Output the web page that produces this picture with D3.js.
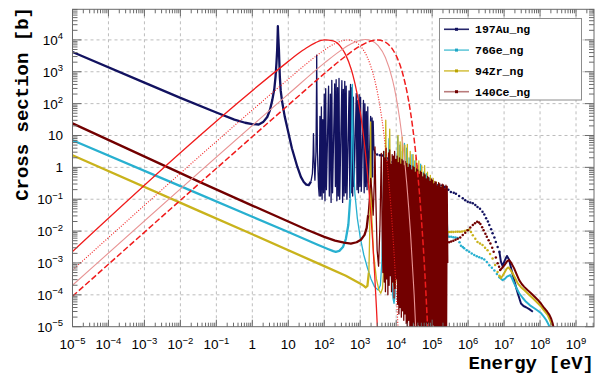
<!DOCTYPE html>
<html>
<head>
<meta charset="utf-8">
<script src="https://cdn.jsdelivr.net/npm/d3@7/dist/d3.min.js"></script>
<style>
  body { margin: 0; background: #fff; }
  svg { display: block; }
</style>
</head>
<body>
<svg id="chart" width="598" height="374"></svg>
<script>
// every point is [log10(E / eV), log10(sigma / b)]

const isotopes = ["197Au_ng", "76Ge_ng", "94Zr_ng", "140Ce_ng"];

// ---- 197Au ----
const au197Thermal = [[-5,3.62],[-3,2.66],[-2,2.18],[-1,1.72],[-0.5,1.5],[-0.2,1.4],[0,1.36],[0.18,1.345],
  [0.3,1.42],[0.415,1.58],[0.49,1.8],[0.555,2.11],[0.61,2.45],[0.645,2.84],[0.67,3.25],[0.69,3.67],[0.705,4.2],
  [0.71,4.43],[0.717,4.2],[0.74,3.67],[0.765,2.84],[0.79,2.4],[0.83,2.05],[0.9,1.6],[0.97,1.25],[1.1,0.6],
  [1.25,0.02],[1.35,-0.3],[1.43,-0.46],[1.5,-0.54],[1.57,-0.56],[1.63,-0.45]];
const au197Res = [[1.63,-0.45],[1.67,-0.2],[1.69,0.4],[1.70,1.06],[1.715,0.3],[1.74,-0.4],[1.77,0.5],[1.785,2.5],
  [1.79,3.52],[1.795,2.5],[1.81,0.5],[1.84,-0.6],[1.86,-0.9],
  [1.88,1.6],[1.90,-0.9],[1.92,1.9],[1.94,-1.0],[1.96,1.5],[1.98,-0.8],[2.00,2.3],[2.02,-1.05],[2.04,2.47],
  [2.06,-0.7],[2.12,2.55],[2.14,-0.9],[2.17,2.3],[2.19,-1.1],[2.21,2.73],[2.23,-0.8],
  [2.29,2.62],[2.31,-0.6],[2.33,2.75],[2.35,-1.05],[2.37,2.5],[2.39,-0.9],[2.41,2.79],
  [2.43,-1.0],[2.49,2.72],[2.51,-1.1],[2.53,2.45],[2.55,-0.9],[2.57,2.7],[2.59,-0.8],
  [2.61,2.55],[2.63,-1.0],[2.69,2.4],[2.71,-0.95],[2.73,2.6],[2.75,-0.8],[2.77,2.5],
  [2.79,-0.9],[2.81,2.2],[2.83,-0.6],[2.89,2.32],[2.91,-0.7],[2.93,2.1],[2.95,-0.8],
  [2.97,2.28],[2.99,-0.6],[3.01,2.2],[3.03,-0.75],[3.09,2.1],[3.11,-0.8],[3.13,2.0],
  [3.15,-0.6],[3.17,1.75],[3.19,-0.7],[3.21,1.9],[3.23,-0.5],[3.29,1.6],[3.31,-0.55],
  [3.33,1.55],[3.345,-0.3],[3.36,1.45],[3.38,0.6],[3.42,0.42]];
const au197Dots = [[3.47,0.40],[3.55,0.38],[3.62,0.37],[3.75,0.28],[3.9,0.17],[4.05,0.06],[4.2,-0.05],[4.35,-0.15],
  [4.5,-0.25],[4.65,-0.33],[4.8,-0.4],[4.92,-0.45],[5.0,-0.48],[5.08,-0.52],[5.17,-0.55],[5.26,-0.58],[5.35,-0.62],
  [5.45,-0.7],[5.52,-0.77],[5.6,-0.8],[5.66,-0.83],[5.75,-0.9],[5.85,-0.97],[5.92,-1.03],[5.99,-1.08],[6.06,-1.1],
  [6.13,-1.13],[6.2,-1.18],[6.26,-1.24],[6.33,-1.3],[6.40,-1.39],[6.45,-1.48],[6.50,-1.6],[6.55,-1.7],[6.59,-1.81],
  [6.64,-1.94],[6.68,-2.07],[6.73,-2.2],[6.77,-2.34],[6.82,-2.5],[6.87,-2.65]];
const au197High = [[6.87,-2.65],[6.91,-2.95],[6.96,-3.1],[7.02,-2.92],[7.08,-2.78],[7.14,-2.9],[7.19,-3.14],
  [7.24,-3.36],[7.28,-3.54],[7.33,-3.75],[7.38,-3.95],[7.43,-4.13],[7.47,-4.27],[7.54,-4.35],[7.61,-4.39],
  [7.7,-4.45],[7.8,-4.53]];

// ---- 76Ge ----
const ge76Thermal = [[-5,0.85],[-2,-0.59],[0,-1.55],[1,-2.03],[1.8,-2.42],[2.1,-2.56],[2.25,-2.63],[2.32,-2.65],
  [2.42,-2.62],[2.52,-2.5],[2.6,-2.25],[2.67,-1.8],[2.72,-1.0]];
const ge76Res = [[2.72,-1.0],[2.75,0.0],[2.765,1.3],[2.78,2.6],[2.795,1.3],[2.81,0.2],[2.85,-0.8],[2.92,-1.6],
  [3.0,-2.2],[3.1,-2.75],[3.2,-3.15],[3.3,-3.5],[3.4,-3.75],[3.5,-3.85],[3.56,-3.7],[3.6,-3.0],[3.63,-1.5],
  [3.66,0.5],[3.69,-1.8],[3.72,-2.8],[3.76,-1.0],[3.8,0.9],[3.83,-1.5],[3.87,-3.5],[3.91,-4.1],[3.94,-4.27],
  [3.97,-4.0],[4.0,-2.0],[4.04,0.96],[4.07,-3.6],[4.1,0.7],[4.13,-3.85],[4.17,0.5],[4.2,-3.7],[4.23,0.75],
  [4.26,-3.9],[4.29,0.6],[4.32,-3.8],[4.36,0.3],[4.4,-3.5],[4.44,0.4],[4.48,-3.4],[4.52,0.2],[4.56,-3.6],
  [4.6,0.05],[4.64,-3.4],[4.68,0.1],[4.72,-3.5],[4.76,-0.15],[4.8,-3.3],[4.84,-0.2],[4.88,-3.5],[4.92,-0.35],
  [4.96,-3.3],[5.0,-0.45],[5.04,-3.4],[5.08,-0.55],[5.12,-3.3],[5.16,-0.7],[5.2,-3.2],[5.24,-0.75],[5.28,-3.1],
  [5.32,-0.85],[5.36,-2.8],[5.4,-1.2],[5.44,-2.18]];
const ge76Dots = [[5.47,-2.18],[5.53,-2.18],[5.59,-2.19],[5.65,-2.2],[5.71,-2.22],[5.76,-2.35],[5.80,-2.46],
  [5.85,-2.5],[5.89,-2.54],[5.96,-2.6],[6.03,-2.65],[6.1,-2.7],[6.17,-2.75],[6.24,-2.79],[6.31,-2.82],[6.38,-2.85],
  [6.45,-2.89],[6.52,-2.97],[6.59,-3.07],[6.66,-3.15],[6.73,-3.24],[6.8,-3.35],[6.87,-3.45]];
const ge76High = [[6.87,-3.45],[6.96,-3.54],[7.02,-3.5],[7.08,-3.43],[7.17,-3.38],[7.22,-3.48],[7.28,-3.64],
  [7.35,-3.8],[7.42,-3.95],[7.52,-4.1],[7.61,-4.22],[7.72,-4.33],[7.84,-4.42],[7.94,-4.5],[8.03,-4.58],
  [8.1,-4.68],[8.17,-4.79],[8.23,-4.92],[8.29,-5.08]];

// ---- 94Zr ----
const zr94Thermal = [[-5,0.38],[-1.44,-1.39],[0,-2.1],[2,-3.1],[2.6,-3.4],[3.02,-3.66],[3.1,-3.72],[3.15,-3.77],
  [3.2,-3.72],[3.24,-3.3]];
const zr94Res = [[3.24,-3.3],[3.265,-2.0],[3.28,0.0],[3.29,1.43],[3.30,0.0],[3.32,-1.5],[3.37,-2.7],[3.45,-3.5],
  [3.52,-3.85],[3.57,-3.95],[3.62,-3.8],[3.66,-3.0],[3.69,-1.0],[3.71,1.48],[3.73,-0.8],[3.76,-2.5],[3.79,-0.5],
  [3.82,1.2],[3.85,-1.8],[3.9,-3.3],[3.94,-3.7],[3.97,-3.8],[4.0,-3.3],[4.03,-1.0],[4.05,1.0],[4.08,-3.5],
  [4.11,0.8],[4.14,-3.3],[4.17,0.95],[4.2,-3.6],[4.24,0.7],[4.28,-3.4],[4.31,0.72],[4.35,-3.5],[4.39,0.5],
  [4.43,-3.3],[4.47,0.4],[4.51,-3.5],[4.55,0.3],[4.59,-3.3],[4.63,0.2],[4.67,-3.4],[4.71,0.05],[4.75,-3.2],
  [4.79,0.05],[4.83,-3.3],[4.87,-0.15],[4.91,-3.2],[4.95,-0.25],[4.99,-3.1],[5.03,-0.35],[5.07,-3.2],[5.11,-0.45],
  [5.15,-3.0],[5.19,-0.5],[5.23,-3.1],[5.27,-0.6],[5.31,-2.9],[5.35,-0.8],[5.39,-2.6],[5.43,-2.03]];
const zr94Dots = [[5.47,-2.03],[5.53,-2.03],[5.59,-2.03],[5.65,-2.02],[5.71,-2.02],[5.77,-2.02],[5.83,-2.01],
  [5.9,-2.0],[5.96,-1.97],[6.03,-1.95],[6.08,-2.03],[6.13,-2.13],[6.2,-2.24],[6.26,-2.34],[6.33,-2.39],[6.4,-2.44],
  [6.47,-2.52],[6.54,-2.6],[6.61,-2.72],[6.68,-2.86],[6.75,-3.06],[6.82,-3.28],[6.87,-3.4]];
const zr94High = [[6.87,-3.4],[6.91,-3.48],[6.96,-3.4],[7.02,-3.28],[7.07,-3.18],[7.12,-3.14],[7.18,-3.22],
  [7.24,-3.33],[7.31,-3.48],[7.38,-3.64],[7.47,-3.76],[7.56,-3.85],[7.68,-3.98],[7.80,-4.11],[7.92,-4.24],
  [8.03,-4.37],[8.12,-4.5],[8.21,-4.63],[8.27,-4.78],[8.33,-4.95]];

// ---- 140Ce ----
const ce140Thermal = [[-5,1.38],[-1.44,-0.47],[0,-1.2],[1,-1.7],[1.5,-1.95],[2.0,-2.18],[2.3,-2.3],[2.55,-2.36],
  [2.74,-2.39],[2.9,-2.35],[3.02,-2.27],[3.12,-2.12],[3.18,-1.9],[3.22,-1.5]];
const ce140Res = [[3.22,-1.5],[3.26,-0.9],[3.29,-0.35],[3.32,-0.7],[3.36,-1.5],[3.39,-0.5],[3.41,0.64],[3.43,-0.8],
  [3.47,-2.6],[3.51,-3.1],[3.55,-1.8],[3.585,0.44],[3.61,-2.0],[3.63,-3.3],
  [3.650,0.50],[3.667,-3.6],[3.684,0.30],[3.701,-3.9],[3.718,0.60],[3.735,-3.5],[3.752,0.20],[3.769,-4.0],
  [3.786,0.45],[3.803,-3.7],[3.820,0.55],[3.837,-3.4],[3.854,0.10],[3.871,-3.9],[3.888,0.40],[3.905,-3.6],
  [3.922,0.35],[3.939,-4.1],[3.956,0.50],[3.973,-3.8],[3.990,0.25],[4.007,-3.5],[4.024,0.35],[4.041,-4.3],
  [4.058,0.15],[4.075,-4.6],[4.092,0.30],[4.109,-4.4],[4.126,0.10],[4.143,-4.7],[4.160,0.25],[4.177,-4.5],
  [4.194,0.20],[4.211,-4.8],[4.228,0.05],[4.245,-4.6],[4.262,0.18],[4.279,-4.9],[4.296,0.12],[4.313,-5.1],
  [4.330,0.00],[4.347,-4.8],[4.364,0.10],[4.381,-5.2],[4.398,0.06],[4.415,-5.0],[4.432,-0.08],[4.449,-5.2],
  [4.466,0.04],[4.483,-4.9],[4.500,0.00],[4.517,-5.2],[4.534,-0.15],[4.551,-5.1],[4.568,-0.04],[4.585,-5.2],
  [4.602,-0.08],[4.619,-4.95],[4.636,-0.22],[4.653,-5.2],[4.670,-0.12],[4.687,-5.1],[4.704,-0.16],[4.721,-5.2],
  [4.738,-0.30],[4.755,-5.0],[4.772,-0.2],[4.789,-5.2],[4.806,-0.24],[4.823,-5.1],[4.840,-0.36],[4.857,-5.2],
  [4.874,-0.28],[4.891,-5.0],[4.908,-0.32],[4.925,-5.2],[4.942,-0.44],[4.959,-5.1],[4.976,-0.36],[4.993,-5.2],
  [5.010,-0.4],[5.027,-4.95],[5.044,-0.52],[5.061,-5.2],[5.078,-0.44],[5.095,-5.1],[5.112,-0.47],[5.129,-5.2],
  [5.146,-0.58],[5.163,-5.0],[5.180,-0.48],[5.197,-5.2],[5.214,-0.52],[5.231,-5.1],[5.248,-0.63],[5.265,-5.2],
  [5.282,-0.53],[5.299,-5.0],[5.316,-0.55],[5.333,-5.2],[5.350,-0.67],[5.367,-5.1],[5.384,-0.56],[5.401,-5.2],
  [5.418,-0.6],[5.435,-3.0]];
const ce140Dots = [[5.47,-2.35],[5.53,-2.33],[5.59,-2.3],[5.65,-2.27],[5.71,-2.24],[5.78,-2.2],[5.85,-2.12],
  [5.92,-2.05],[5.99,-1.97],[6.06,-1.89],[6.13,-1.81],[6.19,-1.75],[6.25,-1.71],[6.3,-1.73],[6.34,-1.78],
  [6.39,-1.88],[6.43,-1.97],[6.48,-2.08],[6.52,-2.18],[6.57,-2.29],[6.62,-2.39],[6.67,-2.52],[6.71,-2.65],
  [6.77,-2.83],[6.82,-3.01],[6.86,-3.12],[6.89,-3.22]];
const ce140High = [[6.89,-3.22],[6.95,-3.15],[7.01,-3.07],[7.08,-2.95],[7.14,-2.91],[7.2,-3.0],[7.28,-3.17],
  [7.35,-3.36],[7.42,-3.54],[7.49,-3.66],[7.56,-3.75],[7.65,-3.85],[7.75,-3.95],[7.85,-4.06],[7.94,-4.16],
  [8.03,-4.28],[8.12,-4.42],[8.2,-4.53],[8.26,-4.63],[8.31,-4.75],[8.35,-4.89],[8.38,-5.05]];

// ---- red flux curves ----
const fluxSolid = [[-5,-2.638],[1,3.326],[1.25,3.548],[1.5,3.748],[1.75,3.908],[2,4.0],[2.25,3.968],[2.5,3.717],
  [2.6,3.522],[2.75,3.077],[2.8,2.878],[2.9,2.387],[3.0,1.743],[3.05,1.351],[3.1,0.905],[3.15,0.398],[3.2,-0.175],
  [3.25,-0.823],[3.3,-1.559],[3.35,-2.391],[3.4,-3.33],[3.45,-4.388],[3.5,-5.58]];
const fluxDotted = [[-5,-3.222],[1,2.768],[1.5,3.247],[2,3.681],[2.25,3.856],[2.5,3.973],[2.65,3.997],[2.8,3.969],
  [3.0,3.813],[3.2,3.448],[3.4,2.754],[3.5,2.226],[3.6,1.536],[3.7,0.641],[3.8,-0.511],[3.9,-1.988],[4.0,-3.873],
  [4.05,-5.0],[4.1,-6.27]];
const fluxPink = [[-5,-3.699],[1,2.298],[2,3.27],[2.5,3.703],[2.75,3.877],[3.0,3.991],[3.15,4.013],[3.3,3.982],
  [3.5,3.82],[3.7,3.446],[3.9,2.737],[4.0,2.199],[4.1,1.496],[4.2,0.584],[4.3,-0.589],[4.4,-2.091],[4.5,-4.009],
  [4.6,-6.45]];
const fluxDashed = [[-5,-4.046],[1,1.954],[2,2.94],[2.5,3.408],[3,3.809],[3.25,3.947],[3.5,3.996],[3.7,3.928],
  [3.9,3.704],[4.0,3.506],[4.1,3.232],[4.2,2.86],[4.3,2.366],[4.4,1.718],[4.5,0.876],[4.6,-0.209],[4.7,-1.601],
  [4.8,-3.38],[4.9,-5.65]];

const xDecades = d3.range(-5, 10);
const yDecades = d3.range(-5, 5);

////////////////////////////////////////////////////////////////////////////////////

const svg = d3.select("#chart");
const frame = { left: 72.5, right: 594, top: 9.3, bottom: 326.7 };

const x = d3.scaleLog().domain([1e-5, 10 ** 9.5]).range([frame.left, frame.right]);
const y = d3.scaleLog().domain([1e-5, 10 ** 4.96]).range([frame.bottom, frame.top]);
const px = d => x(10 ** d[0]);
const py = d => y(10 ** d[1]);

const GRID = "#bdbdbd";
const AXIS = "#6a6a6a";
const MONO = "'Liberation Mono', 'DejaVu Sans Mono', monospace";
const SANS = "'Liberation Sans', Arial, sans-serif";

svg.append("defs").append("clipPath").attr("id", "clip")
  .append("rect")
  .attr("x", frame.left).attr("y", frame.top)
  .attr("width", frame.right - frame.left).attr("height", frame.bottom - frame.top);

// grid
const grid = svg.append("g").attr("stroke", GRID).attr("stroke-dasharray", "3,3").attr("stroke-width", 1);
xDecades.filter(d => d > -5).forEach(d => {
  grid.append("line").attr("x1", x(10 ** d)).attr("x2", x(10 ** d)).attr("y1", frame.top).attr("y2", frame.bottom);
});
yDecades.filter(d => d > -5).forEach(d => {
  grid.append("line").attr("y1", y(10 ** d)).attr("y2", y(10 ** d)).attr("x1", frame.left).attr("x2", frame.right);
});

// data
const plot = svg.append("g").attr("clip-path", "url(#clip)");
const line = d3.line().x(px).y(py);
const smooth = d3.line().x(px).y(py).curve(d3.curveMonotoneX);

const series = [
  { name: isotopes[0], color: "#121260", legendLine: "#25256a", marker: "#121260",
    thermal: au197Thermal, res: au197Res, dots: au197Dots, high: au197High },
  { name: isotopes[1], color: "#28b0d0", legendLine: "#66c9da", marker: "#1ea6c6",
    thermal: ge76Thermal, res: ge76Res, dots: ge76Dots, high: ge76High },
  { name: isotopes[2], color: "#c9b31c", legendLine: "#d6c34a", marker: "#b9a300",
    thermal: zr94Thermal, res: zr94Res, dots: zr94Dots, high: zr94High },
  { name: isotopes[3], color: "#720000", legendLine: "#b97b7b", marker: "#700000",
    thermal: ce140Thermal, res: ce140Res, dots: ce140Dots, high: ce140High },
];

series.forEach(s => {
  const g = plot.append("g").attr("fill", "none").attr("stroke", s.color).attr("stroke-linejoin", "round");
  g.append("path").attr("d", line(s.thermal)).attr("stroke-width", 2.3);
  g.append("path").attr("d", line(s.res)).attr("stroke-width", 1.3);
  g.append("path").attr("d", line(s.high)).attr("stroke-width", 2);
  plot.append("g").selectAll("circle").data(s.dots).enter().append("circle")
    .attr("cx", px).attr("cy", py).attr("r", 1.25).attr("fill", s.color);
});

const flux = [
  { data: fluxSolid, color: "#f01c1c", width: 1.3, dash: null },
  { data: fluxDotted, color: "#f01c1c", width: 1.1, dash: "1,1.6" },
  { data: fluxPink, color: "#e89494", width: 1.1, dash: null },
  { data: fluxDashed, color: "#f01c1c", width: 1.5, dash: "6,2.5" },
];
flux.forEach(f => {
  plot.append("path").attr("d", smooth(f.data)).attr("fill", "none")
    .attr("stroke", f.color).attr("stroke-width", f.width).attr("stroke-dasharray", f.dash);
});

// frame and ticks
const axes = svg.append("g").attr("stroke", AXIS).attr("stroke-width", 1);
axes.append("rect").attr("x", frame.left).attr("y", frame.top)
  .attr("width", frame.right - frame.left).attr("height", frame.bottom - frame.top).attr("fill", "none");

const [xLo, xHi] = x.domain();
xDecades.forEach(d => {
  d3.range(1, 10).forEach(k => {
    const v = k * 10 ** d;
    if (v < xLo || v > xHi) return;
    const len = k === 1 ? 7 : 4;
    const xx = x(v);
    axes.append("line").attr("x1", xx).attr("x2", xx).attr("y1", frame.bottom).attr("y2", frame.bottom - len);
    axes.append("line").attr("x1", xx).attr("x2", xx).attr("y1", frame.top).attr("y2", frame.top + len);
  });
});
const [yLo, yHi] = y.domain();
yDecades.forEach(d => {
  d3.range(1, 10).forEach(k => {
    const v = k * 10 ** d;
    if (v < yLo || v > yHi) return;
    const len = k === 1 ? 9 : 5;
    const yy = y(v);
    axes.append("line").attr("y1", yy).attr("y2", yy).attr("x1", frame.left).attr("x2", frame.left + len);
    axes.append("line").attr("y1", yy).attr("y2", yy).attr("x1", frame.right).attr("x2", frame.right - len);
  });
});

// tick labels
function label(sel, d) {
  if (d === 0) { sel.text("1"); return; }
  if (d === 1) { sel.text("10"); return; }
  sel.append("tspan").text("10");
  sel.append("tspan").attr("dy", -5.5).attr("font-size", 9.5).text(String(d).replace("-", "\u2212"));
}
const labels = svg.append("g").attr("font-family", SANS).attr("font-size", 13.5).attr("fill", "#000");
xDecades.forEach(d => {
  labels.append("text").attr("x", x(10 ** d)).attr("y", 349).attr("text-anchor", "middle").call(label, d);
});
yDecades.forEach(d => {
  labels.append("text").attr("x", 63).attr("y", y(10 ** d) + 5).attr("text-anchor", "end").call(label, d);
});

// axis titles
svg.append("text").attr("x", 594).attr("y", 369).attr("text-anchor", "end")
  .attr("font-family", MONO).attr("font-weight", "bold").attr("font-size", 19).text("Energy [eV]");
svg.append("text").attr("transform", "translate(28,7) rotate(-90)").attr("text-anchor", "end")
  .attr("font-family", MONO).attr("font-weight", "bold").attr("font-size", 19).text("Cross section [b]");

// legend
const legend = svg.append("g");
legend.append("rect").attr("x", 439.5).attr("y", 18.5).attr("width", 142).attr("height", 81.5)
  .attr("fill", "#fff").attr("stroke", "#8c8c8c").attr("stroke-width", 1);
series.forEach((s, i) => {
  const yy = 29.3 + i * 20.8;
  legend.append("line").attr("x1", 444).attr("x2", 469).attr("y1", yy).attr("y2", yy)
    .attr("stroke", s.legendLine).attr("stroke-width", 1.6);
  legend.append("rect").attr("x", 455).attr("y", yy - 1.5).attr("width", 3).attr("height", 3).attr("fill", s.marker);
  legend.append("text").attr("x", 475).attr("y", yy + 4).attr("font-family", MONO).attr("font-weight", "bold")
    .attr("font-size", 11.5).text(s.name);
});
</script>
</body>
</html>
